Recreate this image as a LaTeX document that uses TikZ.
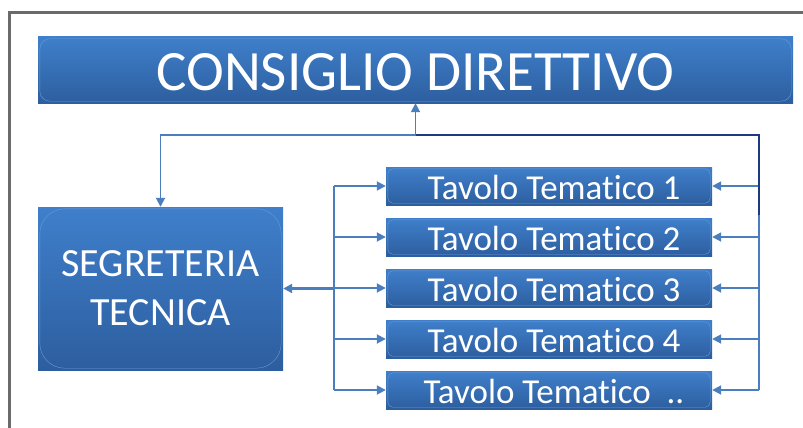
\documentclass[tikz,border=0pt]{standalone}
\usepackage{fontspec}
\setmainfont{Carlito}[Ligatures=NoCommon]
\usetikzlibrary{arrows.meta,calc}
\definecolor{boxtop}{HTML}{3F7FCB}
\definecolor{boxbot}{HTML}{2D5E9F}
\definecolor{gloss}{HTML}{6A9AD6}
\definecolor{link}{HTML}{4A7EBF}
\definecolor{navy}{HTML}{1B3A80}
\definecolor{frame}{HTML}{6B6B6B}

\begin{document}
\begin{tikzpicture}[x=1pt,y=-1pt,
  box/.style={top color=boxtop,bottom color=boxbot,text=white,inner sep=0pt,text depth=0pt,align=center},
  tip/.style={-{Triangle[length=9pt,width=9pt]}},
  wire/.style={link,line width=1.8pt}]
\useasboundingbox (0,0) rectangle (803,428);
\draw[frame,line width=3pt] (9,428)--(9,13)--(803,13);
% boxes
\node[box,minimum width=755pt,minimum height=66pt,font=\fontsize{57}{60}\selectfont,text height=40pt] (consiglio) at (415.5,70) {CONSIGLIO DIRETTIVO};
\node[box,minimum width=245pt,minimum height=163pt,font=\fontsize{40}{49}\selectfont] (segreteria) at (160.5,288.5) {SEGRETERIA\\TECNICA};
\foreach \lab [count=\n] in {1,2,3,4,{\ ..}}
  \node[box,minimum width=326pt,minimum height=38pt,font=\fontsize{35}{40}\selectfont,text height=27pt] (tavolo\n) at (549,135+51*\n) {\kern10pt Tavolo Tematico \lab};
\draw[gloss,rounded corners=10pt] ([shift={(2,2)}]consiglio.north west) rectangle ([shift={(-2,-2)}]consiglio.south east);
\draw[gloss,rounded corners=25pt] ([shift={(2,2)}]segreteria.north west) rectangle ([shift={(-2,-2)}]segreteria.south east);
\foreach \n in {1,...,5} \draw[gloss,rounded corners=5pt] ([shift={(2,2)}]tavolo\n.north west) rectangle ([shift={(-2,-2)}]tavolo\n.south east);
% connectors
\coordinate (busR) at (759,135); \coordinate (busRmid) at (759,215); \coordinate (busL) at (334,0);
\draw[wire,tip] (busR) -| (segreteria.north);
\draw[wire] (busR) -- (busR |- tavolo5.east);
\draw[wire] (busL |- tavolo1.west) -- (busL |- tavolo5.west);
\foreach \n in {1,...,5} {\draw[wire,tip] (busR |- tavolo\n.east) -- (tavolo\n.east); \draw[wire,tip] (busL |- tavolo\n.west) -- (tavolo\n.west);}
\draw[navy,line width=1.8pt] (busRmid) -- (busR) -- (consiglio.south |- busR);
\draw[wire,tip] (consiglio.south |- busR) -- (consiglio.south);
\draw[wire,tip,line width=3pt] (busL |- segreteria.east) -- (segreteria.east);
\end{tikzpicture}
\end{document}
